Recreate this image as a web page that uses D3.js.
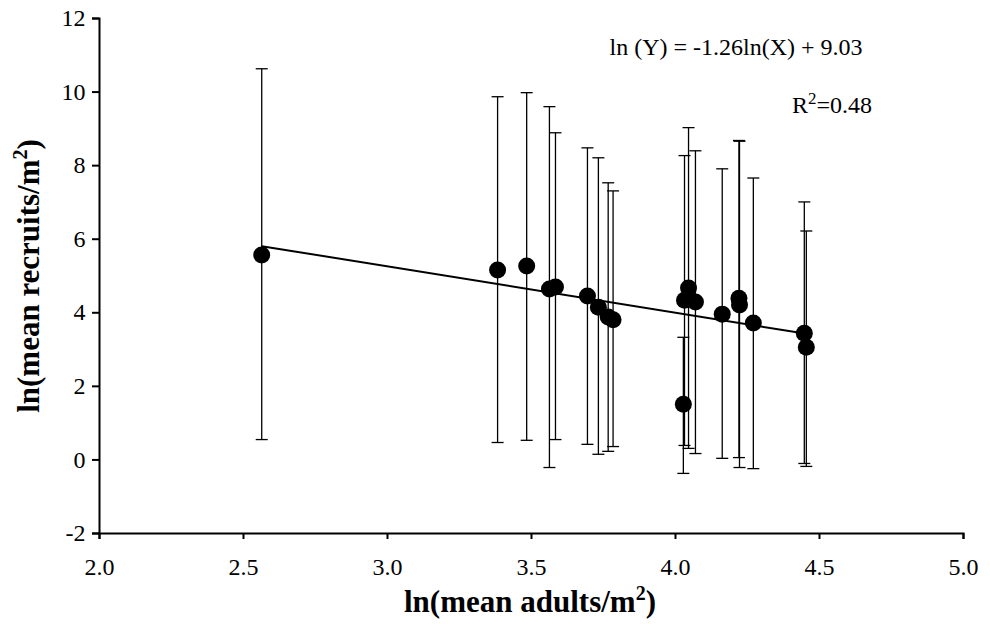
<!DOCTYPE html>
<html><head><meta charset="utf-8">
<script src="https://cdn.jsdelivr.net/npm/d3@7"></script>
<style>body{margin:0;background:#fff}text{font-family:"Liberation Serif","Times New Roman",serif}</style>
</head><body><svg id="c" width="990" height="624"></svg>
<script>
const xs    = [2.565, 3.384, 3.485, 3.564, 3.585, 3.696, 3.734, 3.768, 3.785, 4.029, 4.033, 4.047, 4.071, 4.164, 4.222, 4.224, 4.272, 4.449, 4.456];
const ys    = [5.56, 5.15, 5.26, 4.63, 4.69, 4.44, 4.14, 3.87, 3.80, 1.50, 4.33, 4.66, 4.28, 3.95, 4.38, 4.20, 3.71, 3.43, 3.05];
const upper = [10.62, 9.86, 9.97, 9.59, 8.88, 8.47, 8.20, 7.52, 7.30, 3.32, 8.26, 9.02, 8.39, 7.90, 8.67, 8.65, 7.65, 7.00, 6.21];
const lower = [0.54, 0.46, 0.52, -0.22, 0.54, 0.41, 0.14, 0.22, 0.35, -0.38, 0.38, 0.30, 0.16, 0.03, 0.05, -0.22, -0.25, -0.11, -0.19];
const xTicks = [2.0, 2.5, 3.0, 3.5, 4.0, 4.5, 5.0];
const yTicks = [-2, 0, 2, 4, 6, 8, 10, 12];
const slope = -1.26, intercept = 9.03;

const svg = d3.select("#c");
const x = d3.scaleLinear().domain([2, 5]).range([99, 963]);
const y = d3.scaleLinear().domain([-2, 12]).range([533, 18]);

const xa = svg.append("g").attr("transform", "translate(0,533)")
  .call(d3.axisBottom(x).tickValues(xTicks).tickFormat(d3.format(".1f")).tickSizeOuter(0).tickSize(6));
const ya = svg.append("g").attr("transform", "translate(99,0)")
  .call(d3.axisLeft(y).tickValues(yTicks).tickFormat(d => String(d)).tickSizeOuter(0).tickSize(7));
[xa, ya].forEach(a => {
  a.selectAll("path,line").attr("stroke", "#000").attr("stroke-width", 2);
  a.selectAll("text").attr("fill", "#000").style("font-size", "24px").style("font-family", "Liberation Serif");
});
xa.selectAll("text").attr("y", 0).attr("dy", 0).attr("transform", "translate(0,42)");
ya.selectAll("text").attr("dx", "-0.15em");

const data = xs.map((v, i) => ({x: v, y: ys[i], hi: upper[i], lo: lower[i]}));
const eb = svg.append("g").attr("stroke", "#000").attr("stroke-width", 1.3);
data.forEach(d => {
  eb.append("line").attr("x1", x(d.x)).attr("x2", x(d.x)).attr("y1", y(d.hi)).attr("y2", y(d.lo));
  eb.append("line").attr("x1", x(d.x) - 6).attr("x2", x(d.x) + 6).attr("y1", y(d.hi)).attr("y2", y(d.hi));
  eb.append("line").attr("x1", x(d.x) - 6).attr("x2", x(d.x) + 6).attr("y1", y(d.lo)).attr("y2", y(d.lo));
});

const x0 = d3.min(xs), x1 = d3.max(xs);
svg.append("line").attr("x1", x(x0)).attr("y1", y(intercept + slope * x0))
  .attr("x2", x(x1)).attr("y2", y(intercept + slope * x1))
  .attr("stroke", "#000").attr("stroke-width", 2);

svg.append("g").selectAll("circle").data(data).join("circle")
  .attr("cx", d => x(d.x)).attr("cy", d => y(d.y)).attr("r", 8.5).attr("fill", "#000");

svg.append("text").attr("x", 736).attr("y", 55).attr("text-anchor", "middle")
  .style("font-size", "24px").text("ln (Y) = -1.26ln(X) + 9.03");
const r = svg.append("text").attr("x", 832).attr("y", 113).attr("text-anchor", "middle").style("font-size", "24px");
r.append("tspan").text("R");
r.append("tspan").attr("dy", -9).style("font-size", "17px").text("2");
r.append("tspan").attr("dy", 9).text("=0.48");

const xt = svg.append("text").attr("x", 530).attr("y", 612).attr("text-anchor", "middle")
  .style("font-size", "31px").style("font-weight", "bold");
xt.append("tspan").text("ln(mean adults/m");
xt.append("tspan").attr("dy", -12).style("font-size", "20px").text("2");
xt.append("tspan").attr("dy", 12).text(")");

const yt = svg.append("text").attr("transform", "translate(39,276) rotate(-90)").attr("text-anchor", "middle")
  .style("font-size", "31px").style("font-weight", "bold");
yt.append("tspan").text("ln(mean recruits/m");
yt.append("tspan").attr("dy", -12).style("font-size", "20px").text("2");
yt.append("tspan").attr("dy", 12).text(")");
</script></body></html>
